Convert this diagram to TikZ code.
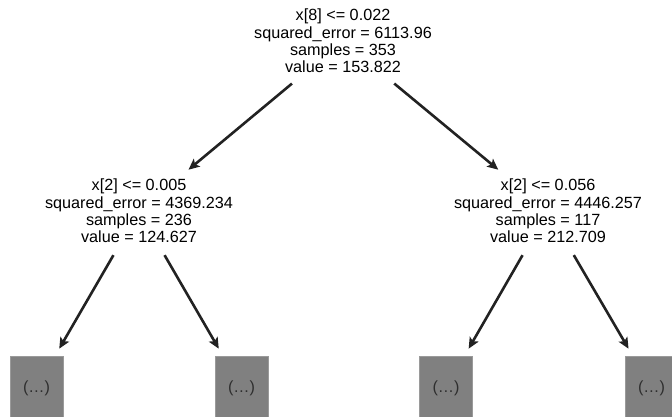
\documentclass[tikz,border=0pt]{standalone}
\usepackage{fontspec}
\setmainfont{Liberation Sans}
\usetikzlibrary{arrows.meta}
\definecolor{arrowgray}{HTML}{222222}
\definecolor{leafgray}{HTML}{808080}
\definecolor{leafedge}{HTML}{9A9A9A}
\definecolor{dotsgray}{HTML}{2E2E2E}
\tikzset{
  split/.style={align=center,inner sep=6pt,font=\fontsize{16.2}{17.3}\selectfont},
  leaf/.style={fill=leafgray,draw=leafedge,line width=0.8pt,minimum width=53pt,minimum height=64pt,
    inner sep=0pt,text=dotsgray,font=\fontsize{16.2}{17.3}\selectfont}
}
\begin{document}
\begin{tikzpicture}[x=1pt,y=-1pt,
  every edge/.style={draw=arrowgray,line width=2.6pt,-{Stealth[length=11pt,width=10pt,inset=2.5pt]},
    shorten <=7pt,shorten >=5pt}]
\clip(0,0)rectangle(672,417);
\node[split] at(343,41)(root){x[8] <= 0.022\\squared\_error = 6113.96\\samples = 353\\value = 153.822};
\node[split] at(139,211)(lt){x[2] <= 0.005\\squared\_error = 4369.234\\samples = 236\\value = 124.627};
\node[split] at(548,211)(rt){x[2] <= 0.056\\squared\_error = 4446.257\\samples = 117\\value = 212.709};
\node[leaf] at(36.5,388)(ll){(…)};
\node[leaf] at(241.5,388)(lr){(…)};
\node[leaf] at(446,388)(rl){(…)};
\node[leaf] at(651.5,388)(rr){(…)};
\path(root)edge(lt)edge(rt);
\path[every edge/.append style={shorten >=8pt}]
     (lt)edge(ll)edge(lr)
     (rt)edge(rl)edge(rr);
\end{tikzpicture}
\end{document}
